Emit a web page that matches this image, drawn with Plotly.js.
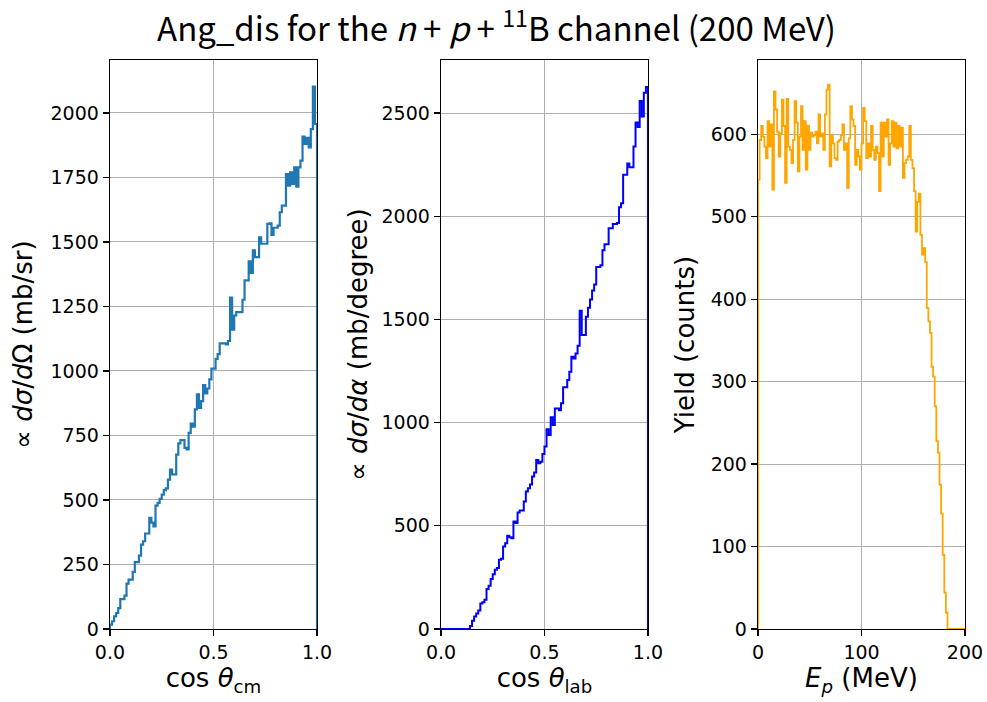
<!DOCTYPE html>
<html>
<head>
<meta charset="utf-8">
<script src="https://cdn.plot.ly/plotly-3.0.1.min.js"></script>
<style>html,body{margin:0;padding:0;background:#fff;}#plot{width:987px;height:702px;}</style>
</head>
<body>
<div id="plot"></div>
<script>
// Panel 1: d sigma / d Omega vs cos theta_cm (100 bins, 0..1)
const cmRange = [0, 1];
const cmCounts = [17,30,49,62,81,116,116,129,176,191,
  191,221,259,259,284,327,340,370,370,431,
  412,398,478,489,504,521,538,545,579,618,
  599,599,676,719,732,732,702,696,760,796,
  784,851,909,857,883,945,913,932,967,1009,
  1009,1047,1065,1107,1107,1107,1103,1116,1284,1160,
  1215,1228,1228,1228,1276,1351,1351,1425,1380,1467,
  1441,1441,1518,1493,1493,1493,1570,1572,1527,1555,
  1555,1563,1615,1641,1641,1763,1718,1770,1725,1789,
  1714,1789,1815,1908,1880,1903,1866,1937,2102,1957];

// Panel 2: d sigma / d alpha vs cos theta_lab (100 bins, 0..1)
const labRange = [0, 1];
const labCounts = [0,0,0,0,0,0,0,0,0,0,
  0,0,0,0,15,40,60,75,90,123,
  130,142,194,210,242,265,287,295,335,340,
  400,416,452,445,440,521,513,565,574,574,
  618,666,682,700,739,758,819,803,810,848,
  884,968,940,1026,989,1069,1069,1060,1094,1171,
  1171,1207,1247,1319,1311,1335,1372,1542,1425,1425,
  1513,1557,1597,1640,1669,1754,1754,1762,1835,1864,
  1864,1942,1942,1963,1963,1967,2044,2063,2201,2201,
  2256,2237,2237,2338,2454,2433,2558,2483,2599,2626];

// Panel 3: yield vs proton energy (130 bins, 0..200 MeV)
const epRange = [0, 200];
const epCounts = [545,593,610,597,585,571,616,585,612,533,
  652,630,603,573,601,642,610,541,643,585,
  581,565,593,640,614,555,597,634,581,616,
  557,610,581,602,597,599,603,589,624,597,
  601,581,624,654,660,561,599,589,571,569,
  591,593,599,612,581,589,535,595,634,618,
  610,563,581,573,557,589,632,616,571,589,
  573,610,581,569,585,577,531,614,573,614,
  597,618,563,589,616,585,614,583,610,585,
  608,547,565,569,573,610,569,559,531,482,
  518,528,478,454,462,445,389,373,359,318,
  306,270,228,214,175,140,90,44,20,0,
  0,0,0,0,0,0,0,0,0,0];

function stepXY(range, counts) {
  const n = counts.length, w = (range[1] - range[0]) / n;
  const xs = [range[0]], ys = [0];
  for (let i = 0; i < n; i++) { xs.push(range[0] + i * w); ys.push(counts[i]); }
  xs.push(range[1]); ys.push(counts[n - 1]);
  xs.push(range[1]); ys.push(0);
  return {x: xs, y: ys};
}

const s1 = stepXY(cmRange, cmCounts);
const s2 = stepXY(labRange, labCounts);
const s3 = stepXY(epRange, epCounts);

const traces = [
  {x: s1.x, y: s1.y, mode: 'lines', line: {shape: 'hv', color: '#1f77b4', width: 2.2}, xaxis: 'x', yaxis: 'y', hoverinfo: 'skip'},
  {x: s2.x, y: s2.y, mode: 'lines', line: {shape: 'hv', color: '#0000ff', width: 2}, xaxis: 'x2', yaxis: 'y2', hoverinfo: 'skip'},
  {x: s3.x, y: s3.y, mode: 'lines', line: {shape: 'hv', color: '#ffa500', width: 1.8}, xaxis: 'x3', yaxis: 'y3', hoverinfo: 'skip'}
];

const TFONT = '"Noto Sans CJK JP", "Noto Sans", sans-serif';
const FONT = '"DejaVu Sans", "Noto Sans", sans-serif';
function ttl(text, standoff) {
  return {text: text, font: {family: FONT, size: 26, color: '#000'}, standoff: standoff};
}
function ax(extra) {
  return Object.assign({
    showline: true, mirror: true, linecolor: '#000', linewidth: 1.3,
    ticks: 'outside', ticklen: 6, tickwidth: 1.3, tickcolor: '#000',
    showgrid: true, gridcolor: '#b0b0b0', gridwidth: 1,
    zeroline: false, tickfont: {family: FONT, size: 19, color: '#000'}
  }, extra);
}
const yb = [0.104, 0.9145];
const layout = {
  width: 987, height: 702,
  margin: {l: 0, r: 0, t: 0, b: 0},
  paper_bgcolor: '#fff', plot_bgcolor: '#fff',
  showlegend: false,
  font: {family: FONT, color: '#000'},
  title: {text: 'Ang_dis for the <i>n</i> + <i>p</i> + <sup>11</sup>B channel (200 MeV)',
    x: 0.503, xanchor: 'center', y: 0.958, yanchor: 'middle',
    font: {family: TFONT, size: 33, color: '#000'}},
  xaxis: ax({domain: [0.1114, 0.3212], range: [0, 1], tickvals: [0, 0.5, 1], ticktext: ['0.0', '0.5', '1.0'], anchor: 'y',
    title: ttl('cos <i>θ</i><sub>cm</sub>', 4)}),
  yaxis: ax({domain: yb, range: [0, 2205], dtick: 250, anchor: 'x',
    title: ttl('∝ <i>dσ</i>/<i>d</i>Ω (mb/sr)', 10)}),
  xaxis2: ax({domain: [0.4468, 0.6565], range: [0, 1], tickvals: [0, 0.5, 1], ticktext: ['0.0', '0.5', '1.0'], anchor: 'y2',
    title: ttl('cos <i>θ</i><sub>lab</sub>', 4)}),
  yaxis2: ax({domain: yb, range: [0, 2757], dtick: 500, anchor: 'x2',
    title: ttl('∝ <i>dσ</i>/<i>dα</i> (mb/degree)', 6)}),
  xaxis3: ax({domain: [0.768, 0.9777], range: [0, 200], tickvals: [0, 100, 200], anchor: 'y3',
    title: ttl('<i>E<sub>p</sub></i> (MeV)', 4)}),
  yaxis3: ax({domain: yb, range: [0, 690], dtick: 100, anchor: 'x3',
    title: ttl('Yield (counts)', 8)})
};

Plotly.newPlot('plot', traces, layout, {displayModeBar: false, staticPlot: true});
</script>
</body>
</html>
